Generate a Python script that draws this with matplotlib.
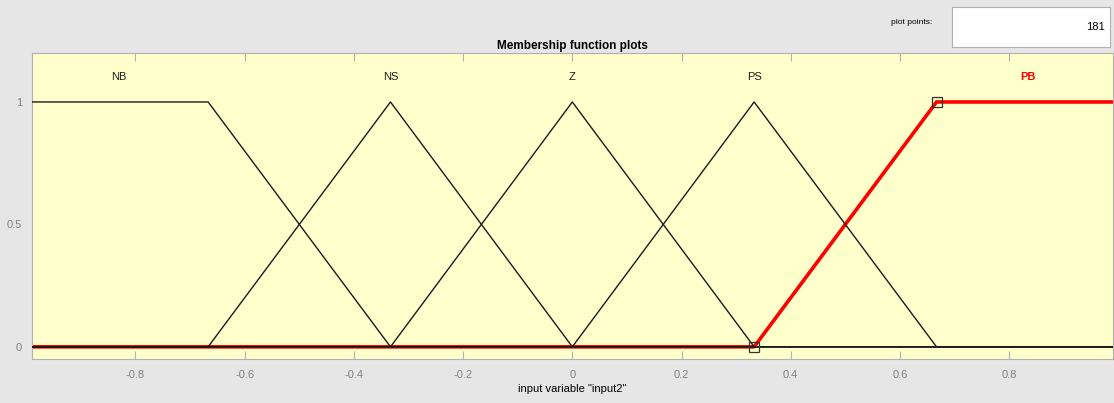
import numpy as np
import matplotlib
matplotlib.use("Agg")
import matplotlib.pyplot as plt

plt.rcParams['font.family'] = ['Liberation Sans', 'DejaVu Sans']

# Membership functions (parameters)
mf_names = ["NB", "NS", "Z", "PS", "PB"]
mf_types = ["trap", "tri", "tri", "tri", "trap"]
mf_params = [
    [-1.667, -1.0, -0.667, -0.333],
    [-0.667, -0.333, 0.0],
    [-0.333, 0.0, 0.333],
    [0.0, 0.333, 0.667],
    [0.333, 0.667, 1.0, 1.667],
]
label_x = [-0.83, -0.333, 0.0, 0.333, 0.835]
selected = 4
n_points = 181
x_range = [-1.0, 1.0]
xticks = [-0.8, -0.6, -0.4, -0.2, 0, 0.2, 0.4, 0.6, 0.8]
yticks = [0, 0.5, 1]


def trimf(x, p):
    a, b, c = p
    y1 = (x - a) / (b - a)
    y2 = (c - x) / (c - b)
    return np.clip(np.minimum(y1, y2), 0, 1)


def trapmf(x, p):
    a, b, c, d = p
    y1 = (x - a) / (b - a)
    y2 = (d - x) / (d - c)
    return np.clip(np.minimum(np.minimum(y1, 1.0), y2), 0, 1)


x = np.linspace(x_range[0], x_range[1], n_points)
# include breakpoints exactly
extra = [v for p in mf_params for v in p if x_range[0] <= v <= x_range[1]]
x = np.unique(np.concatenate([x, extra]))

fig = plt.figure(figsize=(11.14, 4.03), dpi=100, facecolor='#e6e6e6')
ax = fig.add_axes([0.0285, 0.109, 0.9705, 0.7595])
ax.set_facecolor('#ffffcc')

ys = []
for t, p in zip(mf_types, mf_params):
    ys.append(trapmf(x, p) if t == "trap" else trimf(x, p))

# selected MF drawn thick red underneath
ax.plot(x, ys[selected], color='#ff0000', lw=2.6, zorder=2, solid_capstyle='butt')
for i, y in enumerate(ys):
    if i != selected:
        ax.plot(x, y, color='#1a1a1a', lw=1.0, zorder=3)

# squares at break points of selected MF
p = mf_params[selected]
ax.plot([p[0], p[1]], [0, 1], linestyle='none', marker='s', markersize=7,
        markerfacecolor='none', markeredgecolor='#333333', markeredgewidth=0.9, zorder=4)

for i, (name, lx) in enumerate(zip(mf_names, label_x)):
    if i == selected:
        ax.text(lx, 1.1, name, ha='center', va='center', fontsize=8, color='#ff0000',
                fontweight='bold')
    else:
        ax.text(lx, 1.1, name, ha='center', va='center', fontsize=8, color='#1a1a1a')

ax.set_xlim(-0.99, 0.99)
ax.set_ylim(-0.05, 1.2)
ax.set_xticks(xticks)
ax.set_xticklabels([f"{v:g}" for v in xticks])
ax.set_yticks(yticks)
ax.set_yticklabels(["0", "0.5", "1"])
ax.tick_params(direction='in', length=6, width=0.8, color='#b0b0b0', labelcolor='#808080',
               labelsize=8, top=True, right=False, pad=8)
ax.tick_params(axis='y', length=0, pad=7)
for s in ax.spines.values():
    s.set_color('#b0b0b0')
    s.set_linewidth(0.8)

ax.set_title("Membership function plots", fontsize=8.5, fontweight='bold', pad=3)
ax.set_xlabel('input variable "input2"', fontsize=8, labelpad=3)

# plot points box
fig.text(912 / 1114, 1 - 22 / 403, "plot points:", fontsize=6, ha='center', va='center')
box_ax = fig.add_axes([952 / 1114, 1 - 47 / 403, 158 / 1114, 40 / 403])
box_ax.set_facecolor('white')
box_ax.set_xticks([])
box_ax.set_yticks([])
for s in box_ax.spines.values():
    s.set_color('#b0b0b0')
    s.set_linewidth(0.8)
box_ax.text(0.97, 0.5, str(n_points), ha='right', va='center', fontsize=8,
            transform=box_ax.transAxes)

fig.savefig("out.png", dpi=100, facecolor=fig.get_facecolor())
